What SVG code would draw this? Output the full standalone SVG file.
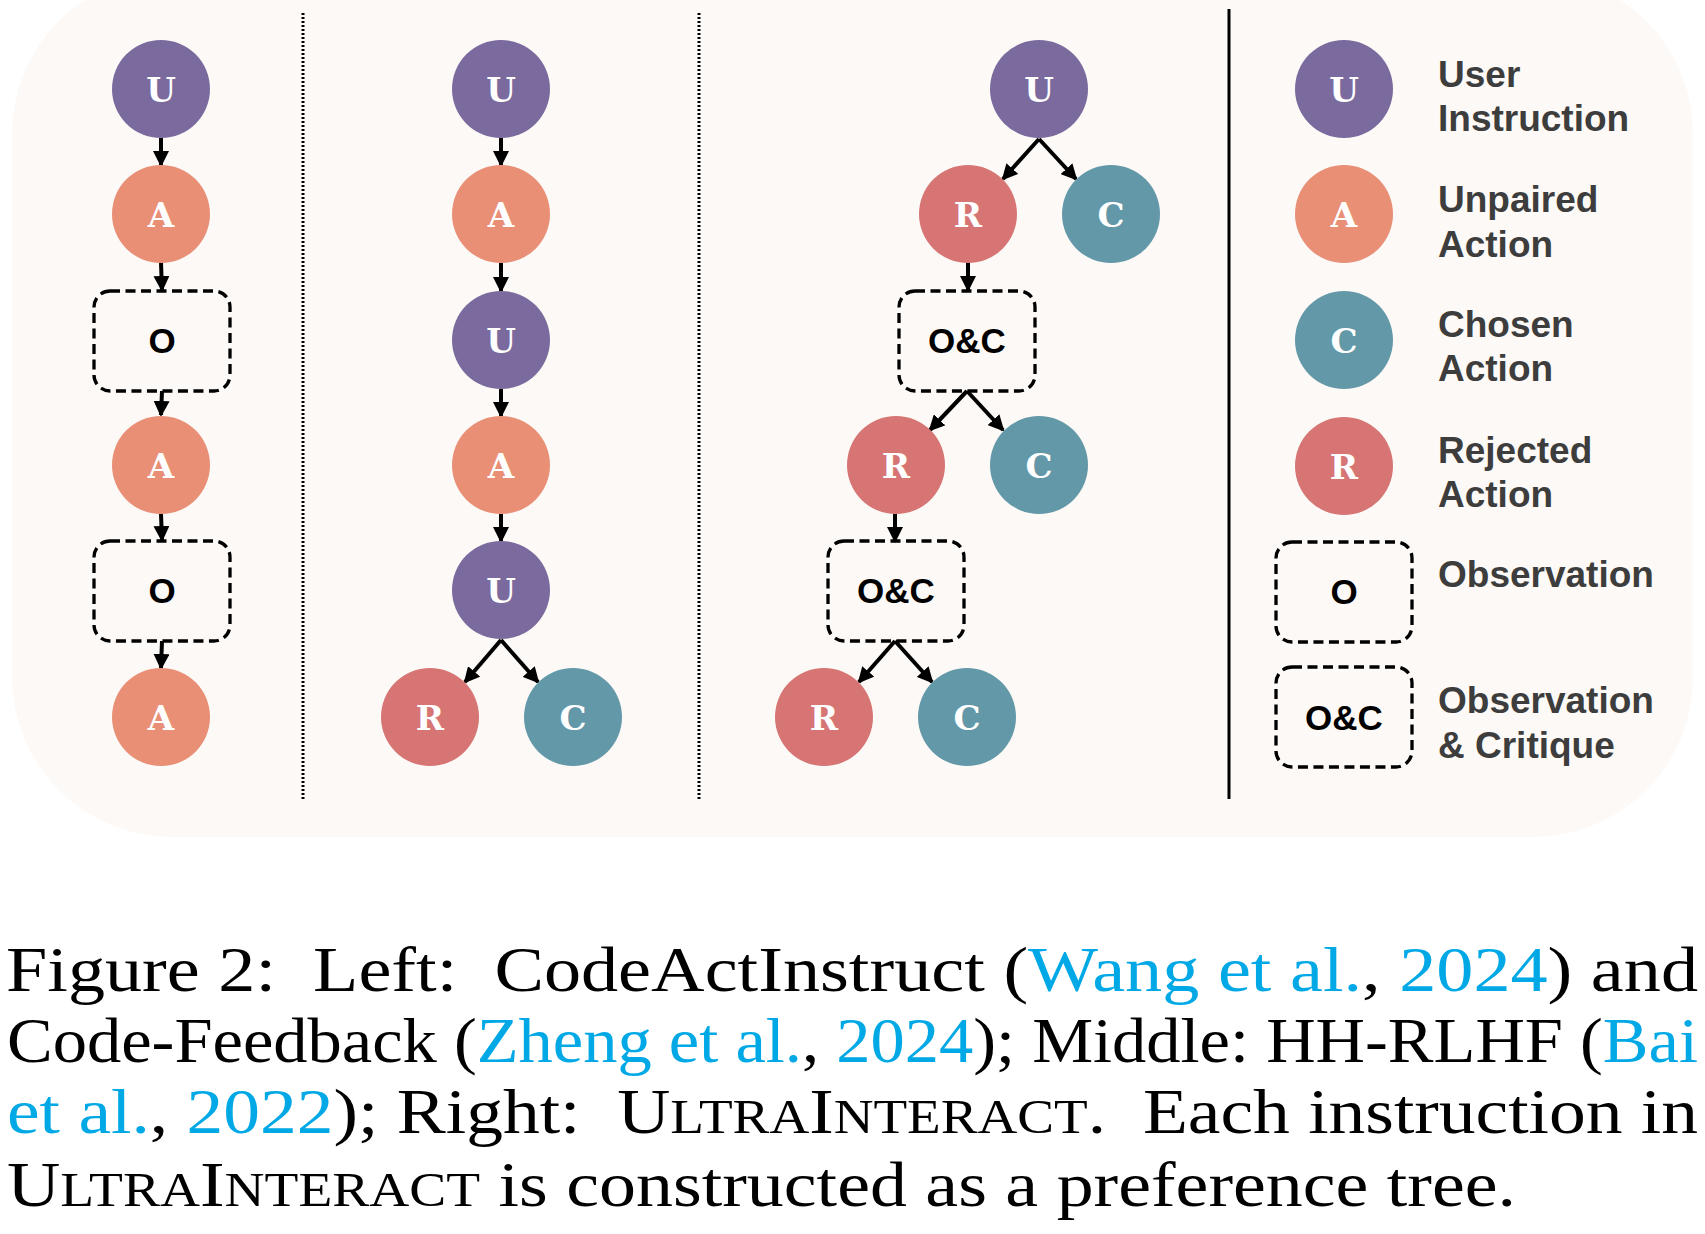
<svg xmlns="http://www.w3.org/2000/svg" width="1705" height="1234" viewBox="0 0 1705 1234">
<defs>
<style>
.bg{fill:#fcf9f6}
.u{fill:#7a6a9e}.a{fill:#e88f76}.c{fill:#6298a8}.r{fill:#d67574}
.lt{font-family:"DejaVu Serif","Liberation Serif",serif;font-weight:bold;font-size:34px;fill:#fff;text-anchor:middle}
.box{fill:none;stroke:#000;stroke-width:3.3;stroke-dasharray:10 5.5}
.bt{font-family:"Liberation Sans",Arial,sans-serif;font-weight:bold;font-size:35px;fill:#000;text-anchor:middle}
.lg{font-family:"Liberation Sans",Arial,sans-serif;font-weight:bold;font-size:37px;fill:#3d3d3d}
.ar{fill:none;stroke:#000;stroke-width:4;marker-end:url(#ah)}
.sep{stroke:#000;stroke-width:3;stroke-dasharray:2 2}
.cap{font-family:"Liberation Serif","Times New Roman",serif;font-size:64px;fill:#000}
.lk{fill:#00a9e6}
.sc{font-size:48px}
</style>
<marker id="ah" viewBox="0 0 16 16" refX="14" refY="8" markerWidth="16" markerHeight="16" markerUnits="userSpaceOnUse" orient="auto">
<path d="M0,0 L16,8 L0,16 z" fill="#000"/>
</marker>
</defs>
<rect class="bg" x="12" y="-26" width="1681" height="863" rx="160" ry="160"/>
<g id="separators">
<line class="sep" x1="303" y1="13" x2="303" y2="800"/>
<line class="sep" x1="699" y1="13" x2="699" y2="800"/>
<line x1="1229" y1="9" x2="1229" y2="799" stroke="#000" stroke-width="3"/>
</g>
<g id="connectors">
<path class="ar" d="M161,138 L161,165"/>
<path class="ar" d="M161,263 L162,290"/>
<path class="ar" d="M162,391 L161,415"/>
<path class="ar" d="M161,514 L162,540"/>
<path class="ar" d="M162,641 L161,668"/>
<path class="ar" d="M501,138 L501,165"/>
<path class="ar" d="M501,263 L501,291"/>
<path class="ar" d="M501,389 L501,416"/>
<path class="ar" d="M501,514 L501,541"/>
<path class="ar" d="M501,640 L465,682"/>
<path class="ar" d="M501,640 L538,682"/>
<path class="ar" d="M1039,139 L1003,179"/>
<path class="ar" d="M1039,139 L1076,179"/>
<path class="ar" d="M968,263 L968,290"/>
<path class="ar" d="M967,391 L930,430"/>
<path class="ar" d="M967,391 L1003,430"/>
<path class="ar" d="M895,514 L895,541"/>
<path class="ar" d="M895,641 L859,682"/>
<path class="ar" d="M895,641 L932,682"/>
</g>
<g id="col1">
<g id="c1-u"><circle class="u" cx="161" cy="89" r="49"/><text class="lt" x="161" y="102">U</text></g>
<g id="c1-a1"><circle class="a" cx="161" cy="214" r="49"/><text class="lt" x="161" y="227">A</text></g>
<g id="c1-o1"><rect class="box" x="94" y="291" width="136" height="100" rx="16"/><text class="bt" x="162" y="353">O</text></g>
<g id="c1-a2"><circle class="a" cx="161" cy="465" r="49"/><text class="lt" x="161" y="478">A</text></g>
<g id="c1-o2"><rect class="box" x="94" y="541" width="136" height="100" rx="16"/><text class="bt" x="162" y="603">O</text></g>
<g id="c1-a3"><circle class="a" cx="161" cy="717" r="49"/><text class="lt" x="161" y="730">A</text></g>
</g>
<g id="col2">
<g id="c2-u1"><circle class="u" cx="501" cy="89" r="49"/><text class="lt" x="501" y="102">U</text></g>
<g id="c2-a1"><circle class="a" cx="501" cy="214" r="49"/><text class="lt" x="501" y="227">A</text></g>
<g id="c2-u2"><circle class="u" cx="501" cy="340" r="49"/><text class="lt" x="501" y="353">U</text></g>
<g id="c2-a2"><circle class="a" cx="501" cy="465" r="49"/><text class="lt" x="501" y="478">A</text></g>
<g id="c2-u3"><circle class="u" cx="501" cy="590" r="49"/><text class="lt" x="501" y="603">U</text></g>
<g id="c2-r"><circle class="r" cx="430" cy="717" r="49"/><text class="lt" x="430" y="730">R</text></g>
<g id="c2-c"><circle class="c" cx="573" cy="717" r="49"/><text class="lt" x="573" y="730">C</text></g>
</g>
<g id="col3">
<g id="c3-u"><circle class="u" cx="1039" cy="89" r="49"/><text class="lt" x="1039" y="102">U</text></g>
<g id="c3-r1"><circle class="r" cx="968" cy="214" r="49"/><text class="lt" x="968" y="227">R</text></g>
<g id="c3-c1"><circle class="c" cx="1111" cy="214" r="49"/><text class="lt" x="1111" y="227">C</text></g>
<g id="c3-oc1"><rect class="box" x="899" y="291" width="136" height="100" rx="16"/><text class="bt" x="967" y="353">O&amp;C</text></g>
<g id="c3-r2"><circle class="r" cx="896" cy="465" r="49"/><text class="lt" x="896" y="478">R</text></g>
<g id="c3-c2"><circle class="c" cx="1039" cy="465" r="49"/><text class="lt" x="1039" y="478">C</text></g>
<g id="c3-oc2"><rect class="box" x="828" y="541" width="136" height="100" rx="16"/><text class="bt" x="896" y="603">O&amp;C</text></g>
<g id="c3-r3"><circle class="r" cx="824" cy="717" r="49"/><text class="lt" x="824" y="730">R</text></g>
<g id="c3-c3"><circle class="c" cx="967" cy="717" r="49"/><text class="lt" x="967" y="730">C</text></g>
</g>
<g id="legend">
<g id="lg-u"><circle class="u" cx="1344" cy="89" r="49"/><text class="lt" x="1344" y="102">U</text><text class="lg" x="1438" y="87">User</text><text class="lg" x="1438" y="131">Instruction</text></g>
<g id="lg-a"><circle class="a" cx="1344" cy="214" r="49"/><text class="lt" x="1344" y="227">A</text><text class="lg" x="1438" y="212">Unpaired</text><text class="lg" x="1438" y="257">Action</text></g>
<g id="lg-c"><circle class="c" cx="1344" cy="340" r="49"/><text class="lt" x="1344" y="353">C</text><text class="lg" x="1438" y="337">Chosen</text><text class="lg" x="1438" y="381">Action</text></g>
<g id="lg-r"><circle class="r" cx="1344" cy="466" r="49"/><text class="lt" x="1344" y="479">R</text><text class="lg" x="1438" y="463">Rejected</text><text class="lg" x="1438" y="507">Action</text></g>
<g id="lg-o"><rect class="box" x="1276" y="542" width="136" height="100" rx="16"/><text class="bt" x="1344" y="604">O</text><text class="lg" x="1438" y="587">Observation</text></g>
<g id="lg-oc"><rect class="box" x="1276" y="667" width="136" height="100" rx="16"/><text class="bt" x="1344" y="730">O&amp;C</text><text class="lg" x="1438" y="713">Observation</text><text class="lg" x="1438" y="758">&amp; Critique</text></g>
</g>
<g id="caption">
<text class="cap" xml:space="preserve" x="6" y="991" textLength="1692" lengthAdjust="spacingAndGlyphs">Figure 2:  Left:  CodeActInstruct (<tspan class="lk">Wang et al.</tspan>, <tspan class="lk">2024</tspan>) and</text>
<text class="cap" x="7" y="1062" textLength="1691" lengthAdjust="spacingAndGlyphs">Code-Feedback (<tspan class="lk">Zheng et al.</tspan>, <tspan class="lk">2024</tspan>); Middle: HH-RLHF (<tspan class="lk">Bai</tspan></text>
<text class="cap" xml:space="preserve" x="7" y="1133" textLength="1691" lengthAdjust="spacingAndGlyphs"><tspan class="lk">et al.</tspan>, <tspan class="lk">2022</tspan>); Right:  U<tspan class="sc">LTRA</tspan>I<tspan class="sc">NTERACT</tspan>.  Each instruction in</text>
<text class="cap" x="7" y="1206" textLength="1509" lengthAdjust="spacingAndGlyphs">U<tspan class="sc">LTRA</tspan>I<tspan class="sc">NTERACT</tspan> is constructed as a preference tree.</text>
</g>
</svg>
